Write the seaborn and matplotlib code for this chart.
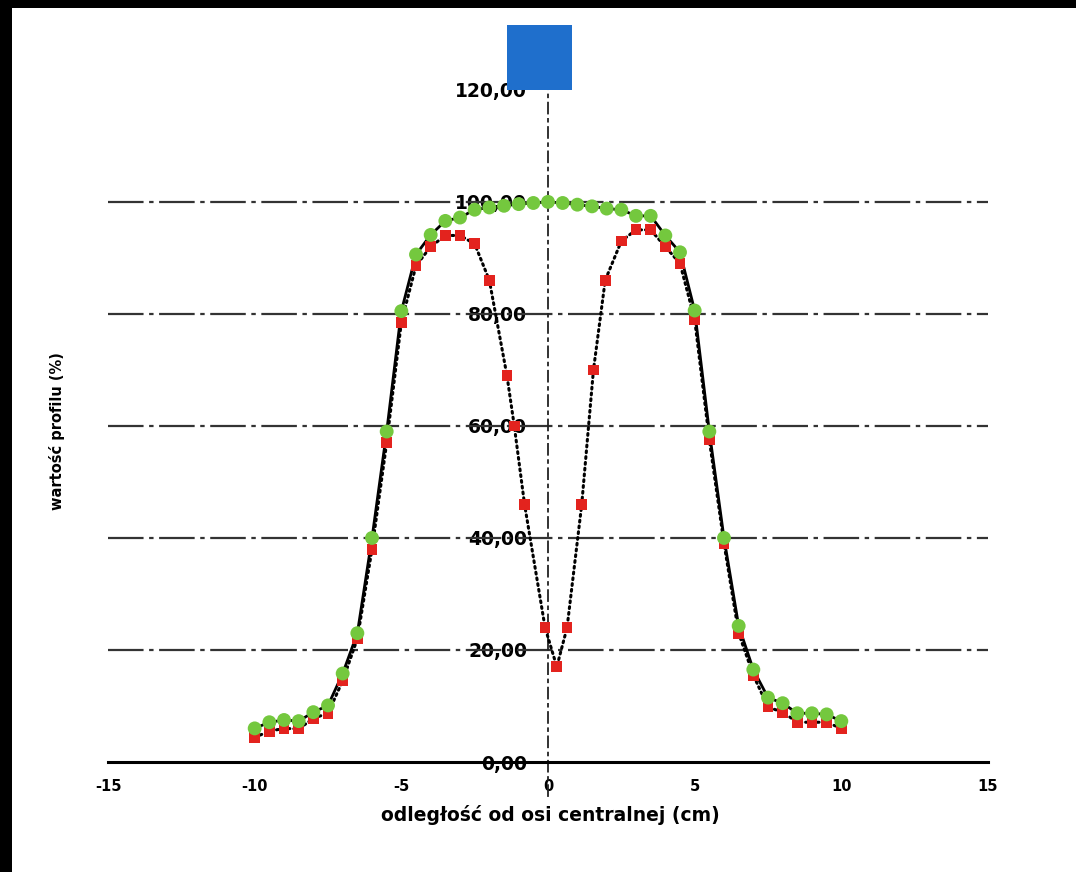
import numpy as np
import pandas as pd
import matplotlib
matplotlib.use("Agg")
import matplotlib.pyplot as plt
import seaborn as sns
from matplotlib.patches import Rectangle

# ---- data ----
x_green = [-10, -9.5, -9, -8.5, -8, -7.5, -7, -6.5, -6, -5.5, -5, -4.5, -4, -3.5, -3, -2.5,
           -2, -1.5, -1, -0.5, 0, 0.5, 1, 1.5, 2, 2.5, 3, 3.5, 4, 4.5, 5, 5.5, 6, 6.5, 7,
           7.5, 8, 8.5, 9, 9.5, 10]
y_green = [6.0, 7.1, 7.5, 7.3, 8.9, 10.1, 15.8, 23.0, 40.0, 59.0, 80.5, 90.6, 94.1, 96.6, 97.2,
           98.6, 99.0, 99.3, 99.6, 99.8, 100.0, 99.8, 99.5, 99.2, 98.8, 98.6, 97.5, 97.5, 94.0,
           91.0, 80.6, 59.0, 40.0, 24.3, 16.5, 11.5, 10.5, 8.7, 8.7, 8.5, 7.3]

x_red = [-10, -9.5, -9, -8.5, -8, -7.5, -7, -6.5, -6, -5.5, -5, -4.5, -4, -3.5, -3, -2.5, -2.0,
         -1.4, -1.15, -0.8, -0.1, 0.3, 0.65, 1.15, 1.55, 1.95, 2.5, 3, 3.5, 4, 4.5, 5, 5.5, 6,
         6.5, 7, 7.5, 8, 8.5, 9, 9.5, 10]
y_red = [4.4, 5.5, 6.0, 5.9, 7.8, 8.7, 14.5, 22.0, 38.0, 57.0, 78.5, 88.6, 92.0, 94.0, 94.0, 92.5,
         86.0, 69.0, 60.0, 46.0, 24.0, 17.0, 24.0, 46.0, 70.0, 86.0, 93.0, 95.0, 95.0, 92.0, 89.0,
         79.0, 57.5, 39.0, 23.0, 15.5, 9.8, 8.9, 7.1, 7.1, 7.1, 6.0]

x_ticks = [-15, -10, -5, 0, 5, 10, 15]
x_tick_labels = ["-15", "-10", "-5", "0", "5", "10", "15"]
y_ticks = [0, 20, 40, 60, 80, 100, 120]
y_tick_labels = ["0,00", "20,00", "40,00", "60,00", "80,00", "100,00", "120,00"]

x_label = "odległość od osi centralnej (cm)"
y_label = "wartość profilu (%)"

df_g = pd.DataFrame({"x": x_green, "y": y_green})
df_r = pd.DataFrame({"x": x_red, "y": y_red})

sns.set_style("white")
plt.rcParams["font.family"] = ["DejaVu Sans"]

fig = plt.figure(figsize=(10.76, 8.72), dpi=100)
ax = fig.add_axes([0.1004, 0.0876, 0.8178, 0.8158])

# lines
sns.lineplot(data=df_r, x="x", y="y", sort=False, color="black", lw=2.2, ax=ax,
             linestyle=(0, (0.6, 1.3)), dash_capstyle="round", zorder=3)
sns.lineplot(data=df_g, x="x", y="y", sort=False, color="black", lw=2.0, ax=ax, zorder=4)
# markers
sns.scatterplot(data=df_r, x="x", y="y", marker="s", s=60, color="#e3231e",
                edgecolor="none", ax=ax, zorder=5)
sns.scatterplot(data=df_g, x="x", y="y", marker="o", s=100, color="#74c83e",
                edgecolor="none", ax=ax, zorder=6)

ax.set_xlim(-15, 15)
ax.set_ylim(-6, 121)

# spines crossing at the origin
for s in ["top", "right"]:
    ax.spines[s].set_visible(False)
ax.spines["bottom"].set_position(("data", 0))
ax.spines["bottom"].set_linewidth(2.2)
ax.spines["bottom"].set_color("black")
ax.spines["left"].set_position(("data", 0))
ax.spines["left"].set_linewidth(1.3)
ax.spines["left"].set_color("#222222")
ax.spines["left"].set_linestyle((0, (6, 3, 1.5, 3)))

ax.set_xticks(x_ticks)
ax.set_xticklabels(x_tick_labels, fontsize=10.5, fontweight="bold")
ax.set_yticks(y_ticks)
ax.set_yticklabels(y_tick_labels, fontsize=13.5, fontweight="bold")
ax.tick_params(axis="x", direction="out", length=5, width=1.5, pad=7, colors="black")
ax.tick_params(axis="y", length=0, pad=15, colors="black")
for lbl in ax.get_yticklabels():
    lbl.set_bbox(dict(facecolor="white", edgecolor="none", pad=1.5))

# dash-dot horizontal grid (no line at 0 and 120)
ax.yaxis.grid(False)
ax.xaxis.grid(False)
for yv in y_ticks[1:-1]:
    ax.axhline(yv, color="#333333", lw=1.6, dashes=(16, 2.5, 2, 2.5), zorder=1)

ax.set_xlabel(x_label, fontsize=13.5, fontweight="bold", color="black")
ax.set_ylabel(y_label, fontsize=10.5, fontweight="bold", color="black")
ax.xaxis.label.set_va("center")
ax.yaxis.label.set_va("center")
ax.xaxis.set_label_coords(0.503, -0.027)
ax.yaxis.set_label_coords(-0.058, 0.5125)

# scan artefacts: black borders and blue square overlay
fig.add_artist(Rectangle((0, 0), 12 / 1076, 1, transform=fig.transFigure,
                         facecolor="black", edgecolor="none", zorder=10))
fig.add_artist(Rectangle((0, 1 - 8 / 872), 1, 8 / 872, transform=fig.transFigure,
                         facecolor="black", edgecolor="none", zorder=10))
fig.add_artist(Rectangle((507 / 1076, 1 - 90 / 872), 65 / 1076, 65 / 872,
                         transform=fig.transFigure, facecolor="#1f6fcc",
                         edgecolor="none", zorder=10))

fig.savefig("out.png", dpi=100)
